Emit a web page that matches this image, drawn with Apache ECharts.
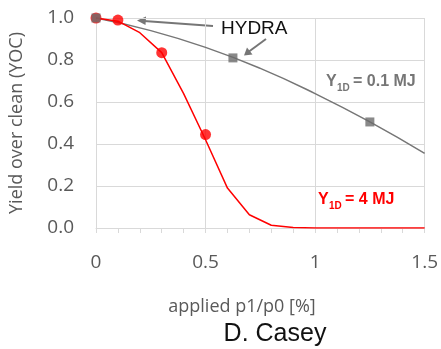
<!DOCTYPE html>
<html>
<head>
<meta charset="utf-8">
<script src="https://cdn.jsdelivr.net/npm/echarts@6/dist/echarts.min.js"></script>
<style>
  html, body { margin: 0; padding: 0; background: #fff; }
  #chart { width: 441px; height: 349px; }
</style>
</head>
<body>
<div id="chart"></div>
<script>
// Y1D = 0.1 MJ (grey): simulated points and the fitted curve
const greyPtsX = [0, 0.625, 1.25]
const greyPtsY = [1.0, 0.81, 0.505]
const greyCurveX = [0, 0.25, 0.5, 0.75, 1.0, 1.25, 1.5]
const greyCurveY = [1.0, 0.94, 0.86, 0.76, 0.64, 0.505, 0.355]

// Y1D = 4 MJ (red)
const redPtsX = [0, 0.1, 0.3, 0.5]
const redPtsY = [1.0, 0.99, 0.835, 0.445]
const redCurveX = [0, 0.1, 0.2, 0.3, 0.4, 0.5, 0.6, 0.7, 0.8, 0.9, 1.0, 1.1, 1.2, 1.3, 1.4, 1.5]
const redCurveY = [1.0, 0.985, 0.93, 0.835, 0.64, 0.42, 0.19, 0.063, 0.013, 0.002, 0, 0, 0, 0, 0, 0]

const xTicks = [0, 0.5, 1, 1.5]
const yTicks = [0, 0.2, 0.4, 0.6, 0.8, 1.0]

const zip = (xs, ys) => xs.map((x, i) => [x, ys[i]])

const GREY = '#767676'
const RED = '#ff0000'
const AXIS_TXT = '#595959'
const labelFont = '"Open Sans", sans-serif'

const chart = echarts.init(document.getElementById('chart'))

chart.setOption({
  animation: false,
  grid: { left: 94, right: 16, top: 18, bottom: 121 },
  xAxis: {
    type: 'value',
    min: xTicks[0],
    max: xTicks[xTicks.length - 1],
    interval: 0.5,
    axisLine: { show: true, onZero: false, lineStyle: { color: '#d9d9d9', width: 1 } },
    axisTick: { show: true, length: 5, inside: false, lineStyle: { color: '#d9d9d9' } },
    minorTick: { show: true, splitNumber: 5, length: 5, lineStyle: { color: '#d9d9d9' } },
    splitLine: { show: true, lineStyle: { color: '#d9d9d9', width: 1 } },
    axisLabel: {
      margin: 25, color: AXIS_TXT, fontSize: 19, fontFamily: labelFont,
      formatter: v => String(v)
    }
  },
  yAxis: {
    type: 'value',
    min: yTicks[0],
    max: yTicks[yTicks.length - 1],
    interval: 0.2,
    name: 'Yield over clean (YOC)',
    nameLocation: 'middle',
    nameGap: 70,
    nameTextStyle: { color: AXIS_TXT, fontSize: 18, fontFamily: labelFont },
    axisLine: { show: false },
    axisTick: { show: false },
    splitLine: { show: true, lineStyle: { color: '#d9d9d9', width: 1 } },
    axisLabel: {
      margin: 22, color: AXIS_TXT, fontSize: 19, fontFamily: labelFont,
      formatter: v => v.toFixed(1)
    }
  },
  series: [
    {
      name: 'grey fit',
      type: 'line',
      smooth: true,
      showSymbol: false,
      data: zip(greyCurveX, greyCurveY),
      lineStyle: { color: GREY, width: 1.5 },
      z: 2
    },
    {
      name: 'red fit',
      type: 'line',
      showSymbol: false,
      data: zip(redCurveX, redCurveY),
      lineStyle: { color: RED, width: 1.5 },
      z: 3
    },
    {
      name: '4 MJ',
      type: 'scatter',
      symbol: 'circle',
      symbolSize: 11,
      data: zip(redPtsX, redPtsY),
      itemStyle: { color: RED },
      z: 4
    },
    {
      name: '0.1 MJ',
      type: 'scatter',
      symbol: 'rect',
      symbolSize: 9,
      data: zip(greyPtsX, greyPtsY),
      itemStyle: { color: '#6b6b6b' },
      z: 5
    }
  ],
  graphic: [
    // HYDRA annotation
    { type: 'text', left: 221, top: 19, style: { text: 'HYDRA', fill: '#111', font: '19px "Liberation Sans", Arial, sans-serif' } },
    { type: 'line', shape: { x1: 213, y1: 26, x2: 144, y2: 21 }, style: { stroke: GREY, lineWidth: 2 } },
    { type: 'polygon', shape: { points: [[137, 20.5], [146, 16.5], [145.5, 25]] }, style: { fill: GREY } },
    { type: 'line', shape: { x1: 266, y1: 39, x2: 249, y2: 51.5 }, style: { stroke: GREY, lineWidth: 2 } },
    { type: 'polygon', shape: { points: [[244, 55.5], [247, 47.5], [252.5, 54.5]] }, style: { fill: GREY } },

    // grey series label
    { type: 'text', left: 326, top: 74, style: { text: 'Y', fill: GREY, font: 'bold 16px "Liberation Sans", Arial, sans-serif' } },
    { type: 'text', left: 337, top: 83, style: { text: '1D', fill: GREY, font: 'bold 10px "Liberation Sans", Arial, sans-serif' } },
    { type: 'text', left: 353, top: 74, style: { text: '= 0.1 MJ', fill: GREY, font: 'bold 16px "Liberation Sans", Arial, sans-serif' } },

    // red series label
    { type: 'text', left: 318, top: 192, style: { text: 'Y', fill: RED, font: 'bold 16px "Liberation Sans", Arial, sans-serif' } },
    { type: 'text', left: 329, top: 201, style: { text: '1D', fill: RED, font: 'bold 10px "Liberation Sans", Arial, sans-serif' } },
    { type: 'text', left: 345, top: 192, style: { text: '= 4 MJ', fill: RED, font: 'bold 16px "Liberation Sans", Arial, sans-serif' } },

    // x axis name and credit
    { type: 'text', x: 242, y: 307, style: { text: 'applied p1/p0 [%]', fill: AXIS_TXT, font: '18px "Open Sans", sans-serif', textAlign: 'center', textVerticalAlign: 'middle' } },
    { type: 'text', x: 275, y: 334, style: { text: 'D. Casey', fill: '#111', font: '25px "Liberation Sans", Arial, sans-serif', textAlign: 'center', textVerticalAlign: 'middle' } }
  ]
})
</script>
</body>
</html>
